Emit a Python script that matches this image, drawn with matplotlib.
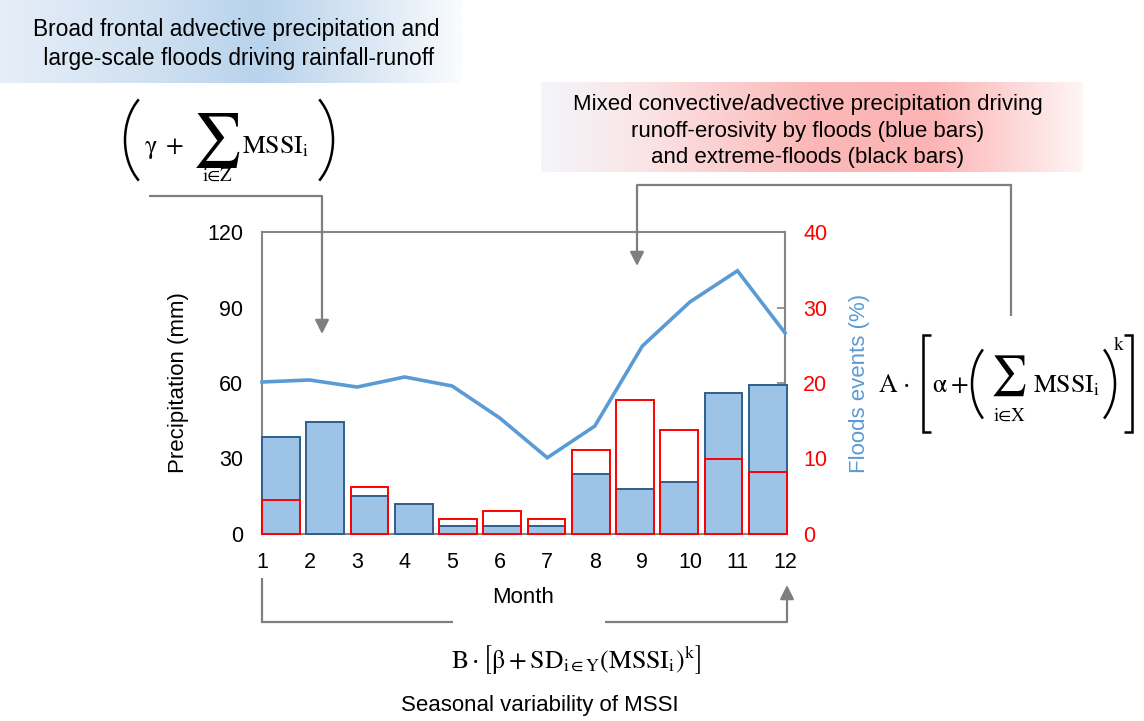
import numpy as np
import matplotlib
matplotlib.use("Agg")
import matplotlib.pyplot as plt
from matplotlib.colors import LinearSegmentedColormap
from matplotlib.patches import Arc

plt.rcParams['font.family'] = ['Liberation Sans', 'DejaVu Sans']
plt.rcParams['mathtext.fontset'] = 'stix'

# ---------------- data ----------------
months = [1, 2, 3, 4, 5, 6, 7, 8, 9, 10, 11, 12]
precipitation_mm = [60.4, 61.2, 58.4, 62.4, 58.8, 46.1, 30.3, 42.9, 74.7, 92.2, 104.6, 79.9]
floods_pct = [12.8, 14.8, 5.0, 4.0, 1.1, 1.1, 1.1, 7.9, 6.0, 6.9, 18.7, 19.8]
extreme_floods_pct = [4.5, 0.0, 6.2, 0.0, 2.0, 3.0, 2.0, 11.1, 17.7, 13.8, 9.9, 8.2]
left_ticks = [0, 30, 60, 90, 120]
right_ticks = [0, 10, 20, 30, 40]

title_left = "Broad frontal advective precipitation and\n large-scale floods driving rainfall-runoff"
title_right = ("Mixed convective/advective precipitation driving\n"
               "runoff-erosivity by floods (blue bars)\n"
               "and extreme-floods (black bars)")
formula_y = (r"$\mathrm{B}\cdot\left[\mathrm{\beta} + \mathrm{SD}_{\mathrm{i}\in\mathrm{Y}}"
             r"(\mathrm{MSSI}_{\mathrm{i}})^{\mathrm{k}}\right]$")
bottom_caption = "Seasonal variability of MSSI"

# ---------------- figure ----------------
W, H = 1144, 721
fig = plt.figure(figsize=(W / 100, H / 100), dpi=100)

def px_rect(x0, y0, x1, y1):
    return [x0 / W, 1 - y1 / H, (x1 - x0) / W, (y1 - y0) / H]

ax_left, ax_right, ax_top, ax_bot = 262, 785, 232, 534
rect = px_rect(ax_left, ax_top, ax_right, ax_bot)

GRAY = "#868686"
LINE_BLUE = "#5b9bd5"
BAR_FILL = "#9dc3e6"
BAR_EDGE = "#2e5f8c"
RED = "#ff0000"

# precipitation (left axis)
ax = fig.add_axes(rect)
ax.set_xlim(1, 12)
ax.set_ylim(0, 120)
ax.set_yticks(left_ticks)
ax.set_xticks(months)
ax.tick_params(axis='both', length=0, labelsize=15.5, colors='black')
ax.tick_params(axis='y', pad=13.5)
ax.tick_params(axis='x', pad=13)
for s in ax.spines.values():
    s.set_color(GRAY)
    s.set_linewidth(1.5)
ax.set_ylabel("Precipitation (mm)", fontsize=16, labelpad=13)
ax.set_xlabel("Month", fontsize=16, labelpad=10)
ax.patch.set_visible(False)

# floods (right axis)
ax2 = ax.twinx()
ax2.set_ylim(0, 40)
ax2.set_yticks(right_ticks)
ax2.tick_params(axis='y', direction='in', length=6, width=1.2, color=GRAY,
                labelsize=15.5, labelcolor=RED, pad=13)
for s in ax2.spines.values():
    s.set_visible(False)
ax2.set_ylabel("Floods events (%)", fontsize=16, color=LINE_BLUE, labelpad=16)

# bars on their own category scale
axb = fig.add_axes(rect)
pitch_px = 44.25
axb.set_xlim(1, 1 + (ax_right - ax_left) / pitch_px)
axb.set_ylim(0, 40)
axb.axis('off')
bar_w = 0.855
axb.bar(months, floods_pct, width=bar_w, align='edge', color=BAR_FILL,
        edgecolor=BAR_EDGE, linewidth=1.4, clip_on=False, zorder=2)
red_edges = [RED if v > 0 else 'none' for v in extreme_floods_pct]
axb.bar(months, extreme_floods_pct, width=bar_w, align='edge', color='none',
        edgecolor=red_edges, linewidth=1.4, clip_on=False, zorder=3)

# line on top
axl = fig.add_axes(rect)
axl.set_xlim(1, 12)
axl.set_ylim(0, 120)
axl.axis('off')
axl.plot(months, precipitation_mm, color=LINE_BLUE, linewidth=2.6,
         solid_joinstyle='miter', clip_on=False)

# ---------------- overlay (pixel coordinates) ----------------
ov = fig.add_axes([0, 0, 1, 1], zorder=10)
ov.axis('off')
ov.patch.set_visible(False)

def hgrad(x0, x1, y0, y1, stops):
    cmap = LinearSegmentedColormap.from_list("g", stops)
    grad = np.linspace(0, 1, 256)[None, :]
    ov.imshow(grad, extent=(x0, x1, y1, y0), cmap=cmap, aspect='auto',
              interpolation='bilinear', zorder=0)

hgrad(0, 462, 0, 83, [(0.0, "#e6eef8"), (0.3, "#d2e2f2"), (0.56, "#b8d3ec"),
                      (0.8, "#dae7f4"), (1.0, "#fafcfe")])
hgrad(541, 1083, 82, 172, [(0.0, "#f3f6fb"), (0.2, "#fbe3e4"), (0.5, "#fbb8b8"),
                           (0.72, "#fcb3b3"), (1.0, "#fff5f5")])
ov.set_xlim(0, W)
ov.set_ylim(H, 0)

ov.text(236, 44, title_left, ha='center', va='center', fontsize=16.4,
        linespacing=1.35, color='black')
ov.text(808, 131, title_right, ha='center', va='center', fontsize=16,
        linespacing=1.35, color='black')

SERIF = 'STIXGeneral'
MS = 18.5   # main formula text size

def paren(x_left, x_right, y0, y1, left=True, lw=1.8):
    h = y1 - y0
    w = x_right - x_left
    th = np.deg2rad(55)
    ry = (h / 2) / np.sin(th)
    rx = w / (1 - np.cos(th))
    ym = (y0 + y1) / 2
    if left:
        xc = x_left + rx
        a = Arc((xc, ym), 2 * rx, 2 * ry, theta1=180 - 55, theta2=180 + 55,
                color='black', lw=lw)
    else:
        xc = x_right - rx
        a = Arc((xc, ym), 2 * rx, 2 * ry, theta1=-55, theta2=55,
                color='black', lw=lw)
    ov.add_patch(a)

def bracket(x, y0, y1, serif, lw=1.8):
    ov.plot([x + serif, x, x, x + serif], [y0, y0, y1, y1], color='black',
            lw=lw, solid_joinstyle='miter', solid_capstyle='butt')

# formula 1: (gamma + sum_{i in Z} MSSI_i)
paren(125, 143, 95, 185, left=True)
ov.text(145, 153, "γ", fontfamily=SERIF, fontsize=MS, ha='left', va='baseline')
ov.text(175, 153, "+", fontfamily=SERIF, fontsize=MS, ha='center', va='baseline')
ov.text(216, 140, r"$\sum$", fontsize=39, ha='center', va='center')
ov.text(217, 176, "i∈Z", fontfamily=SERIF, fontsize=13.5, ha='center', va='center')
ov.text(242, 153, r"$\mathrm{MSSI}_{\mathrm{i}}$", fontsize=MS, ha='left', va='baseline')
paren(315, 333, 95, 185, left=False)

# formula 2: A . [alpha + (sum_{i in X} MSSI_i)^k]
ov.text(879, 392, "A", fontfamily=SERIF, fontsize=MS, ha='left', va='baseline')
ov.text(907, 392, "⋅", fontfamily=SERIF, fontsize=MS, ha='center', va='baseline')
bracket(923, 335, 432, 8)
ov.text(932, 392, "α", fontfamily=SERIF, fontsize=MS, ha='left', va='baseline')
ov.text(960, 392, "+", fontfamily=SERIF, fontsize=MS, ha='center', va='baseline')
paren(972, 987, 345, 423, left=True)
ov.text(1008, 376, r"$\sum$", fontsize=29, ha='center', va='center')
ov.text(1009, 416, "i∈X", fontfamily=SERIF, fontsize=13.5, ha='center', va='center')
ov.text(1033, 392, r"$\mathrm{MSSI}_{\mathrm{i}}$", fontsize=MS, ha='left', va='baseline')
paren(1100, 1115, 345, 423, left=False)
ov.text(1114, 350, "k", fontfamily=SERIF, fontsize=14, ha='left', va='baseline')
bracket(1132, 335, 432, -8)

# formula 3 and caption
ov.text(576, 660, formula_y, ha='center', va='center', fontsize=18.5)
ov.text(540, 705, bottom_caption, ha='center', va='center', fontsize=16)

ALW = 1.6
AGRAY = "#7f7f7f"

def arrow_to(x, y0, y1):
    ov.annotate("", xy=(x, y1), xytext=(x, y0),
                arrowprops=dict(arrowstyle='-|>,head_length=0.6,head_width=0.3',
                                color=AGRAY, lw=ALW, shrinkA=0, shrinkB=0,
                                mutation_scale=14))

# arrow 1 (left formula -> chart)
ov.plot([149, 322], [196, 196], color=AGRAY, lw=ALW, solid_capstyle='butt')
arrow_to(322, 196, 334)
# arrow 2 (right formula -> chart)
ov.plot([1011, 1011, 637], [316, 185, 185], color=AGRAY, lw=ALW,
        solid_capstyle='butt', solid_joinstyle='miter')
arrow_to(637, 185, 266)
# arrow 3 (bottom)
ov.plot([262, 262, 453], [578, 622, 622], color=AGRAY, lw=ALW,
        solid_capstyle='butt', solid_joinstyle='miter')
ov.plot([605, 787], [622, 622], color=AGRAY, lw=ALW, solid_capstyle='butt')
arrow_to(787, 622, 585)

fig.savefig("out.png", dpi=100)
